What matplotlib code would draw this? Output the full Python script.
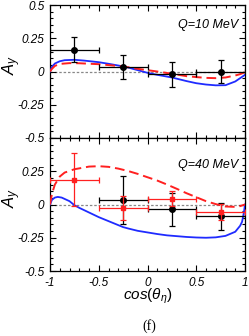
import matplotlib
matplotlib.use("Agg")
import matplotlib.pyplot as plt
from matplotlib.ticker import MultipleLocator

# ---------------- data ----------------
# Q = 10 MeV
q10_blue_x = [-1.0, -0.98, -0.95, -0.9, -0.85, -0.75, -0.65, -0.5, -0.4, -0.3, -0.25, -0.2, -0.1,
              0.0, 0.1, 0.25, 0.4, 0.5, 0.6, 0.7, 0.8, 0.9, 0.95, 1.0]
q10_blue_y = [0.0, 0.035, 0.06, 0.077, 0.085, 0.088, 0.082, 0.07, 0.058, 0.045, 0.038, 0.03, 0.01,
              -0.01, -0.025, -0.045, -0.072, -0.088, -0.098, -0.104, -0.103, -0.075, -0.05, -0.025]
q10_red_x = [-1.0, -0.98, -0.95, -0.9, -0.8, -0.7, -0.5, -0.25, -0.1, 0.0, 0.1, 0.25, 0.4, 0.5,
             0.6, 0.7, 0.8, 0.9, 0.95, 1.0]
q10_red_y = [0.0, 0.02, 0.042, 0.057, 0.063, 0.062, 0.055, 0.038, 0.02, 0.01, 0.0, -0.017, -0.035,
             -0.042, -0.048, -0.05, -0.045, -0.03, -0.02, -0.005]
q10_pts_x = [-0.75, -0.25, 0.25, 0.75]
q10_pts_y = [0.165, 0.035, -0.022, 0.0]
q10_pts_yerr = [0.095, 0.09, 0.095, 0.09]
q10_pts_xerr = [0.25, 0.25, 0.25, 0.25]

# Q = 40 MeV
q40_blue_x = [-1.0, -0.98, -0.95, -0.92, -0.88, -0.8, -0.75, -0.7, -0.6, -0.5, -0.4, -0.3, -0.25,
              -0.2, -0.1, 0.0, 0.1, 0.2, 0.3, 0.4, 0.5, 0.6, 0.7, 0.8, 0.9, 0.95, 0.97, 0.99, 1.0]
q40_blue_y = [0.0, 0.035, 0.052, 0.057, 0.052, 0.025, -0.005, -0.025, -0.06, -0.095, -0.125, -0.155,
              -0.17, -0.18, -0.198, -0.21, -0.222, -0.232, -0.238, -0.244, -0.248, -0.25, -0.247,
              -0.236, -0.205, -0.16, -0.13, -0.055, 0.0]
q40_red_x = [-1.0, -0.98, -0.95, -0.9, -0.85, -0.75, -0.6, -0.5, -0.4, -0.3, -0.2, -0.1, 0.0, 0.1,
             0.2, 0.3, 0.4, 0.5, 0.6, 0.7, 0.8, 0.9, 0.95, 1.0]
q40_red_y = [0.0, 0.08, 0.15, 0.21, 0.24, 0.265, 0.285, 0.288, 0.283, 0.27, 0.252, 0.23, 0.205, 0.18,
             0.15, 0.118, 0.085, 0.055, 0.025, 0.003, -0.015, -0.018, -0.012, 0.0]
q40_black_x = [-0.25, 0.25, 0.75]
q40_black_y = [0.035, -0.037, -0.09]
q40_black_yerr = [0.18, 0.125, 0.1]
q40_black_xerr = [0.25, 0.25, 0.25]
q40_red_pts_x = [-0.75, -0.25, 0.25, 0.75]
q40_red_pts_y = [0.185, -0.025, 0.043, -0.053]
q40_red_pts_yerr = [0.2, 0.09, 0.055, 0.06]
q40_red_pts_xerr = [0.25, 0.25, 0.25, 0.25]

xticks = [-1, -0.5, 0, 0.5, 1]
xticklabels = ["-1", "-0.5", "0", "0.5", "1"]
yticks_top = [-0.5, -0.25, 0, 0.25, 0.5]
yticklabels_top = ["-0.5", "-0.25", "0", "0.25", "0.5"]
yticks_bot = [-0.5, -0.25, 0, 0.25]
yticklabels_bot = ["-0.5", "-0.25", "0", "0.25"]

# ---------------- figure ----------------
plt.rcParams['font.family'] = ['Liberation Sans', 'DejaVu Sans']
plt.rcParams['mathtext.fontset'] = 'custom'
plt.rcParams['mathtext.it'] = 'Liberation Sans:italic'
plt.rcParams['mathtext.rm'] = 'Liberation Sans'

fig = plt.figure(figsize=(2.49, 3.36), dpi=100)
L, W = 50 / 249, 195 / 249
ax1 = fig.add_axes([L, 1 - 138 / 336, W, 133 / 336])
ax2 = fig.add_axes([L, 1 - 271 / 336, W, 133 / 336])

BLUE = "#1f2bff"
RED = "#ff2020"
TICKFS = 8.5

def style(ax):
    ax.set_xlim(-1, 1)
    ax.set_ylim(-0.5, 0.5)
    ax.xaxis.set_minor_locator(MultipleLocator(0.1))
    ax.yaxis.set_minor_locator(MultipleLocator(0.05))
    ax.tick_params(which='both', direction='in', top=True, right=True, width=0.8)
    ax.tick_params(which='major', length=4.5, pad=4)
    ax.tick_params(which='minor', length=2.2)
    for s in ax.spines.values():
        s.set_linewidth(0.9)
    ax.axhline(0, color="#888888", ls=(0, (2, 1.5)), lw=0.9, zorder=1)

# top panel
ax1.plot(q10_blue_x, q10_blue_y, color=BLUE, lw=1.3, zorder=3)
ax1.plot(q10_red_x, q10_red_y, color=RED, lw=1.4, ls=(0, (5, 2.5)), zorder=3)
ax1.errorbar(q10_pts_x, q10_pts_y, yerr=q10_pts_yerr, xerr=q10_pts_xerr, fmt='o', color='black',
             ms=4, capsize=2, elinewidth=0.9, capthick=0.9, zorder=4)
ax1.set_xticks(xticks)
ax1.set_xticklabels([])
ax1.set_yticks(yticks_top)
ax1.set_yticklabels(yticklabels_top, fontstyle='italic', fontsize=TICKFS)
style(ax1)
ax1.text(0.93, 0.35, "Q=10 MeV", ha='right', va='center', fontsize=9, fontstyle='italic')
ax1.text(-0.195, 0.55, r"$A_y$", transform=ax1.transAxes, rotation=90,
         ha='center', va='center', fontsize=12)

# bottom panel
ax2.plot(q40_blue_x, q40_blue_y, color=BLUE, lw=1.3, zorder=3)
ax2.plot(q40_red_x, q40_red_y, color=RED, lw=1.4, ls=(0, (5, 2.5)), zorder=3)
ax2.errorbar(q40_black_x, q40_black_y, yerr=q40_black_yerr, xerr=q40_black_xerr, fmt='o',
             color='black', ms=4, capsize=2, elinewidth=0.9, capthick=0.9, zorder=4)
ax2.errorbar(q40_red_pts_x, q40_red_pts_y, yerr=q40_red_pts_yerr, xerr=q40_red_pts_xerr, fmt='s',
             color=RED, ms=3.5, capsize=2, elinewidth=0.9, capthick=0.9, zorder=5)
ax2.set_xticks(xticks)
ax2.set_xticklabels(xticklabels, fontstyle='italic', fontsize=TICKFS)
ax2.set_yticks(yticks_bot)
ax2.set_yticklabels(yticklabels_bot, fontstyle='italic', fontsize=TICKFS)
style(ax2)
ax2.text(0.93, 0.30, "Q=40 MeV", ha='right', va='center', fontsize=9, fontstyle='italic')
ax2.text(-0.195, 0.55, r"$A_y$", transform=ax2.transAxes, rotation=90,
         ha='center', va='center', fontsize=12)

fig.text(148 / 249, 1 - 300 / 336, r"$cos(\theta_{\eta})$", ha='center', va='baseline', fontsize=11)
fig.text(149 / 249, 1 - 330 / 336, "(f)", ha='center', va='baseline', fontsize=10,
         family=['Liberation Serif', 'DejaVu Serif'])

fig.savefig("out.png", dpi=100)
